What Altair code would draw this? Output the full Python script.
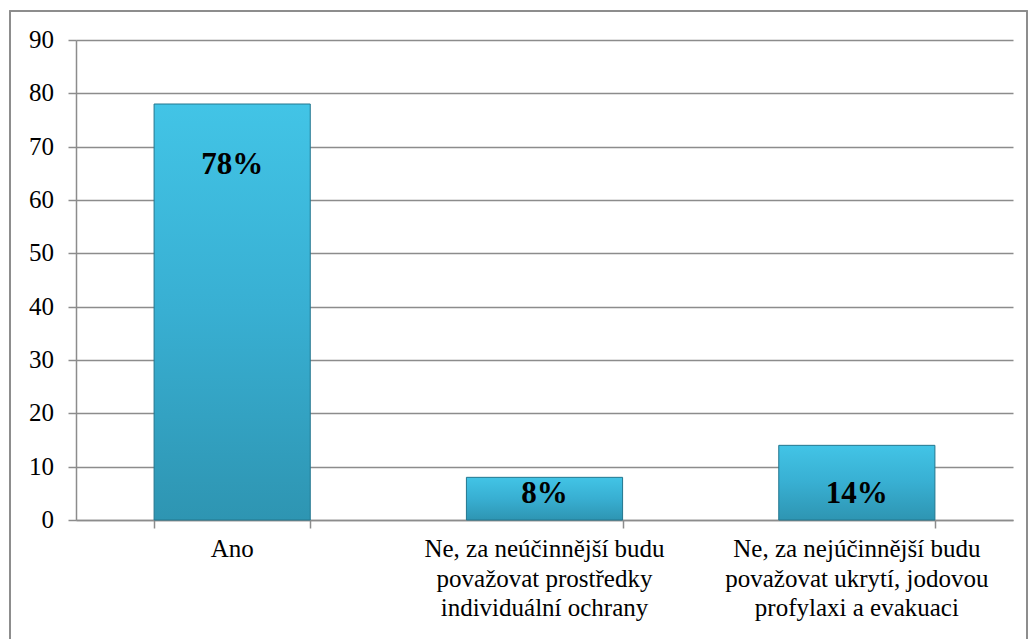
import altair as alt
import pandas as pd

# Survey answers and their shares (%)
categories = [
    "Ano",
    "Ne, za neúčinnější budu|považovat prostředky|individuální ochrany",
    "Ne, za nejúčinnější budu|považovat ukrytí, jodovou|profylaxi a evakuaci",
]
values = [78, 8, 14]
y_ticks = [0, 10, 20, 30, 40, 50, 60, 70, 80, 90]

df = pd.DataFrame({"kategorie": categories, "hodnota": values})
df["popisek"] = df["hodnota"].astype(str) + "%"
ticks_df = pd.DataFrame({"t": y_ticks})

W, H = 937, 480
FONT = "'Times New Roman', 'Liberation Serif', 'DejaVu Serif', serif"
GRID = "#8c8c8c"

common = dict(
    labels=False,
    tickSize=8,
    tickColor=GRID,
    tickWidth=1.5,
    domainColor=GRID,
    domainWidth=1.5,
)

x_scale = alt.Scale(paddingInner=0.5, paddingOuter=0.25)
x_axis = alt.Axis(title=None, tickBand="extent", grid=False, **common)
y_scale = alt.Scale(domain=[0, 90], nice=False)
y_axis = alt.Axis(
    title=None, values=y_ticks, grid=True, gridColor=GRID, gridWidth=1.5, **common
)

bars = alt.Chart(df).mark_bar(
    fill={
        "x1": 0, "y1": 0, "x2": 0, "y2": 1,
        "gradient": "linear",
        "stops": [
            {"offset": 0, "color": "#42c4e6"},
            {"offset": 0.5, "color": "#38afd2"},
            {"offset": 1, "color": "#2e95b2"},
        ],
    },
    stroke="#23768e",
    strokeWidth=1,
).encode(
    x=alt.X("kategorie:N", sort=categories, scale=x_scale, axis=x_axis),
    y=alt.Y("hodnota:Q", scale=y_scale, axis=y_axis),
)

# Value labels inside the bars
labels = alt.Chart(df).transform_calculate(
    pos="datum.hodnota > 20 ? datum.hodnota - 11.5 : 4.8"
).mark_text(
    font=FONT, fontSize=31, fontWeight="bold", color="#000000", baseline="middle"
).encode(
    x=alt.X("kategorie:N", sort=categories, scale=x_scale, axis=x_axis),
    y=alt.Y("pos:Q", scale=y_scale, axis=y_axis),
    text="popisek:N",
)

# Category names under the bars (multi-line)
cat_text = alt.Chart(df).mark_text(
    font=FONT, fontSize=25, fontWeight="normal", color="#000000", baseline="top",
    lineBreak="|", lineHeight=29.5,
).encode(
    x=alt.X("kategorie:N", sort=categories, scale=x_scale, axis=x_axis),
    y=alt.value(H + 17),
    text="kategorie:N",
)

# Y tick values
tick_text = alt.Chart(ticks_df).mark_text(
    font=FONT, fontSize=25, fontWeight="normal", color="#000000",
    align="right", baseline="middle",
).encode(
    x=alt.value(-22),
    y=alt.Y("t:Q", scale=y_scale, axis=y_axis),
    text="t:Q",
)

# Outer frame around the whole figure
frame = alt.Chart(df).mark_rect(
    fill=None, stroke="#8c8c8c", strokeWidth=1.5, clip=False
).encode(
    x=alt.value(-66), x2=alt.value(W + 14),
    y=alt.value(-29), y2=alt.value(H + 130),
)

chart = alt.layer(frame, bars, labels, cat_text, tick_text).properties(
    width=W,
    height=H,
    autosize=alt.AutoSizeParams(type="none"),
    padding={"left": 76, "top": 40, "right": 15, "bottom": 119},
    background="white",
).configure_view(stroke=None)

chart.save("out.html", embed_options={"renderer": "svg", "actions": False})
